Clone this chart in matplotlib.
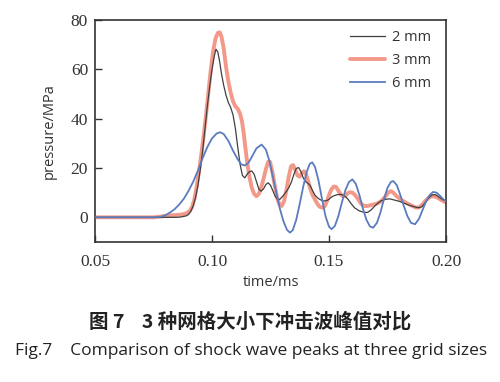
import matplotlib
matplotlib.use("Agg")
import matplotlib.pyplot as plt

# ---- data ----
t_2mm = [0.050, 0.085, 0.087, 0.089, 0.090, 0.091, 0.092, 0.093, 0.094, 0.095,
         0.096, 0.097, 0.098, 0.099, 0.100, 0.101, 0.1017, 0.1025, 0.1033, 0.104,
         0.105, 0.106, 0.107, 0.108, 0.109, 0.110, 0.111, 0.112, 0.113, 0.114,
         0.115, 0.116, 0.117, 0.118, 0.119, 0.120, 0.121, 0.122, 0.123, 0.124,
         0.125, 0.126, 0.127, 0.128, 0.129, 0.130, 0.131, 0.132, 0.133, 0.134,
         0.135, 0.136, 0.137, 0.138, 0.139, 0.140, 0.141, 0.142, 0.143, 0.144,
         0.145, 0.146, 0.147, 0.148, 0.149, 0.150, 0.151, 0.152, 0.1535, 0.155,
         0.1565, 0.158, 0.1595, 0.161, 0.163, 0.165, 0.1665, 0.168, 0.170, 0.172,
         0.174, 0.176, 0.178, 0.180, 0.182, 0.184, 0.186, 0.188, 0.1895, 0.191,
         0.1925, 0.194, 0.1955, 0.197, 0.1985, 0.200]
p_2mm = [0, 0, 0.2, 0.6, 1.2, 2.5, 4.8, 8.2, 13, 19.5,
         27, 36, 45, 53, 60, 65.5, 68.2, 67, 63, 58.5,
         53.5, 49.5, 46.5, 44.5, 41.5, 36, 28.5, 21.5, 17, 16,
         17.5, 18.5, 18.8, 17.5, 14.5, 11.5, 10.6, 11.5, 13.3, 14,
         13, 10.8, 8.5, 7.3, 7.3, 8.3, 9.5, 10.8, 12.3, 14.5,
         17.5, 19.8, 20.2, 18.5, 16, 14.5, 13.8, 12.8, 10.8, 9,
         8, 7.3, 6.8, 6.6, 6.8, 7.3, 8.2, 8.7, 9.2, 9.3,
         8.8, 7.5, 5.5, 3.8, 2.6, 2, 2, 3, 5, 6.6,
         7.3, 7.5, 7, 6.5, 5.8, 5, 4.4, 3.9, 4.2, 5.8,
         7.8, 9.1, 9.2, 8.2, 7.2, 6.6]

t_3mm = [0.050, 0.075, 0.078, 0.081, 0.084, 0.087, 0.089, 0.0905, 0.0915, 0.0925,
         0.0935, 0.0945, 0.0955, 0.0965, 0.0975, 0.0985, 0.0995, 0.1005, 0.1015, 0.1025,
         0.1033, 0.104, 0.105, 0.106, 0.107, 0.108, 0.109, 0.110, 0.111, 0.112,
         0.1128, 0.1135, 0.1143, 0.115, 0.116, 0.117, 0.118, 0.119, 0.120, 0.121,
         0.122, 0.123, 0.124, 0.1248, 0.1258, 0.1268, 0.1278, 0.1288, 0.1298, 0.1308,
         0.1318, 0.1328, 0.1338, 0.1346, 0.1355, 0.1365, 0.1375, 0.1385, 0.1393, 0.1402,
         0.141, 0.142, 0.143, 0.144, 0.145, 0.146, 0.1472, 0.1482, 0.149, 0.150,
         0.151, 0.152, 0.153, 0.154, 0.155, 0.156, 0.157, 0.158, 0.159, 0.160,
         0.161, 0.162, 0.163, 0.164, 0.165, 0.1665, 0.168, 0.170, 0.172, 0.174,
         0.1755, 0.1765, 0.1775, 0.179, 0.181, 0.183, 0.185, 0.187, 0.1885, 0.190,
         0.1915, 0.193, 0.1945, 0.196, 0.198, 0.200]
p_3mm = [0, 0, 0.3, 0.7, 0.9, 1.1, 1.6, 2.6, 4.2, 7.5,
         12.8, 19, 26, 33.5, 42, 51, 60, 67.5, 72.5, 74.8,
         75, 73.5, 68.5, 61, 55, 50.5, 47, 45, 44, 42,
         39, 34.5, 28, 22.5, 16.5, 12, 9.5, 8.6, 9.5, 12,
         15.5, 19.5, 22.5, 22.5, 18.5, 13, 8, 5.2, 4.6, 6.5,
         11, 16.5, 20.7, 21.2, 19.5, 17, 16.5, 18, 18.7, 17.5,
         15, 11.5, 9, 7.2, 5.5, 4.3, 3.9, 4.5, 6.3, 9,
         11.3, 12.5, 12.3, 10.8, 9.3, 8.5, 8.8, 9.8, 10.2, 10,
         9.2, 8, 6.5, 5.3, 4.6, 4.6, 5, 5.4, 6.3, 8.3,
         10.2, 10.6, 10, 8.5, 7, 5.9, 4.9, 4, 4, 5.3,
         7, 8.2, 8.6, 8.2, 7, 6]

t_6mm = [0.050, 0.075, 0.078, 0.080, 0.082, 0.084, 0.086, 0.088, 0.090, 0.092,
         0.094, 0.096, 0.098, 0.100, 0.102, 0.1034, 0.105, 0.107, 0.109, 0.111,
         0.1125, 0.114, 0.1155, 0.117, 0.119, 0.1212, 0.123, 0.1245, 0.126, 0.1275,
         0.129, 0.1305, 0.132, 0.1333, 0.1345, 0.136, 0.1375, 0.139, 0.1405, 0.1418,
         0.1428, 0.144, 0.1455, 0.147, 0.1485, 0.150, 0.1511, 0.1525, 0.154, 0.1555,
         0.157, 0.1585, 0.160, 0.1615, 0.163, 0.1645, 0.166, 0.1675, 0.1689, 0.1705,
         0.172, 0.1735, 0.175, 0.1765, 0.1775, 0.179, 0.1805, 0.182, 0.1835, 0.185,
         0.1868, 0.1885, 0.190, 0.1915, 0.193, 0.1945, 0.196, 0.1975, 0.199, 0.200]
p_6mm = [0, 0, 0.2, 0.8, 1.9, 3.3, 5.2, 7.6, 10.8, 14.5,
         19, 24, 28.5, 32, 34, 34.5, 33.8, 31, 27, 23.5,
         21.5, 21, 22, 24.5, 28, 29.5, 27.5, 23, 16.5, 10,
         3.5, -1.5, -5, -6.2, -5.2, -1, 5.5, 12.5, 18.5, 21.7,
         22.3, 20.5, 15, 7.5, 0.5, -3.8, -4.8, -3.5, 0.5, 6,
         11, 14.3, 15.4, 13.5, 9, 3.5, -1, -3.7, -4.2, -2.2,
         2, 7.5, 12, 14.4, 14.7, 13, 9, 4.5, 0.5, -2.2,
         -2.8, -0.5, 3, 6.5, 9, 10.3, 10, 8.7, 7.2, 6.6]

labels = ["2 mm", "3 mm", "6 mm"]
x_ticks = [0.05, 0.10, 0.15, 0.20]
x_ticklabels = ["0.05", "0.10", "0.15", "0.20"]
y_ticks = [0, 20, 40, 60, 80]
caption_cn = "图 7    3 种网格大小下冲击波峰值对比"
caption_en = "Fig.7    Comparison of shock wave peaks at three grid sizes"

fig = plt.figure(figsize=(5.0, 3.82), dpi=100)
ax = fig.add_axes([0.19, 0.3665, 0.702, 0.581])

l2, = ax.plot(t_2mm, p_2mm, color="#404040", lw=0.9, zorder=3, label=labels[0])
l3, = ax.plot(t_3mm, p_3mm, color="#f3998a", lw=2.8, zorder=2, label=labels[1],
              solid_capstyle="round", solid_joinstyle="round")
l6, = ax.plot(t_6mm, p_6mm, color="#5a7cbf", lw=1.3, zorder=4, label=labels[2])

ax.set_xlim(0.05, 0.20)
ax.set_ylim(-10, 80)
ax.set_xticks(x_ticks)
ax.set_xticklabels(x_ticklabels)
ax.set_yticks(y_ticks)
ax.tick_params(direction="in", length=5, width=1, colors="#333333", labelsize=12.5)
for lab in ax.get_xticklabels() + ax.get_yticklabels():
    lab.set_family("Liberation Serif")
    lab.set_color("#333333")
ax.tick_params(axis="x", pad=9)
ax.tick_params(axis="y", pad=5)
for s in ax.spines.values():
    s.set_color("#333333")
    s.set_linewidth(1.2)

ax.set_xlabel("time/ms", fontsize=10.5, family="Open Sans", color="#333333", labelpad=3)
ax.set_ylabel("pressure/MPa", fontsize=10.5, family="Open Sans", color="#333333", labelpad=10)

leg = ax.legend(handles=[l2, l3, l6], loc="upper right", bbox_to_anchor=(0.995, 1.015),
                frameon=False, handlelength=2.4, handletextpad=0.45, labelspacing=0.55,
                prop={"family": "Open Sans", "size": 10.5})
for txt in leg.get_texts():
    txt.set_color("#333333")

fig.text(0.5, 1 - 322 / 382, caption_cn, ha="center", va="center", fontsize=14,
         family=["Noto Sans CJK SC", "DejaVu Sans"], weight="bold", color="#222222")
fig.text(0.502, 1 - 351 / 382, caption_en, ha="center", va="center", fontsize=12.5,
         family="Open Sans", color="#222222")

fig.savefig("out.png", dpi=100)
